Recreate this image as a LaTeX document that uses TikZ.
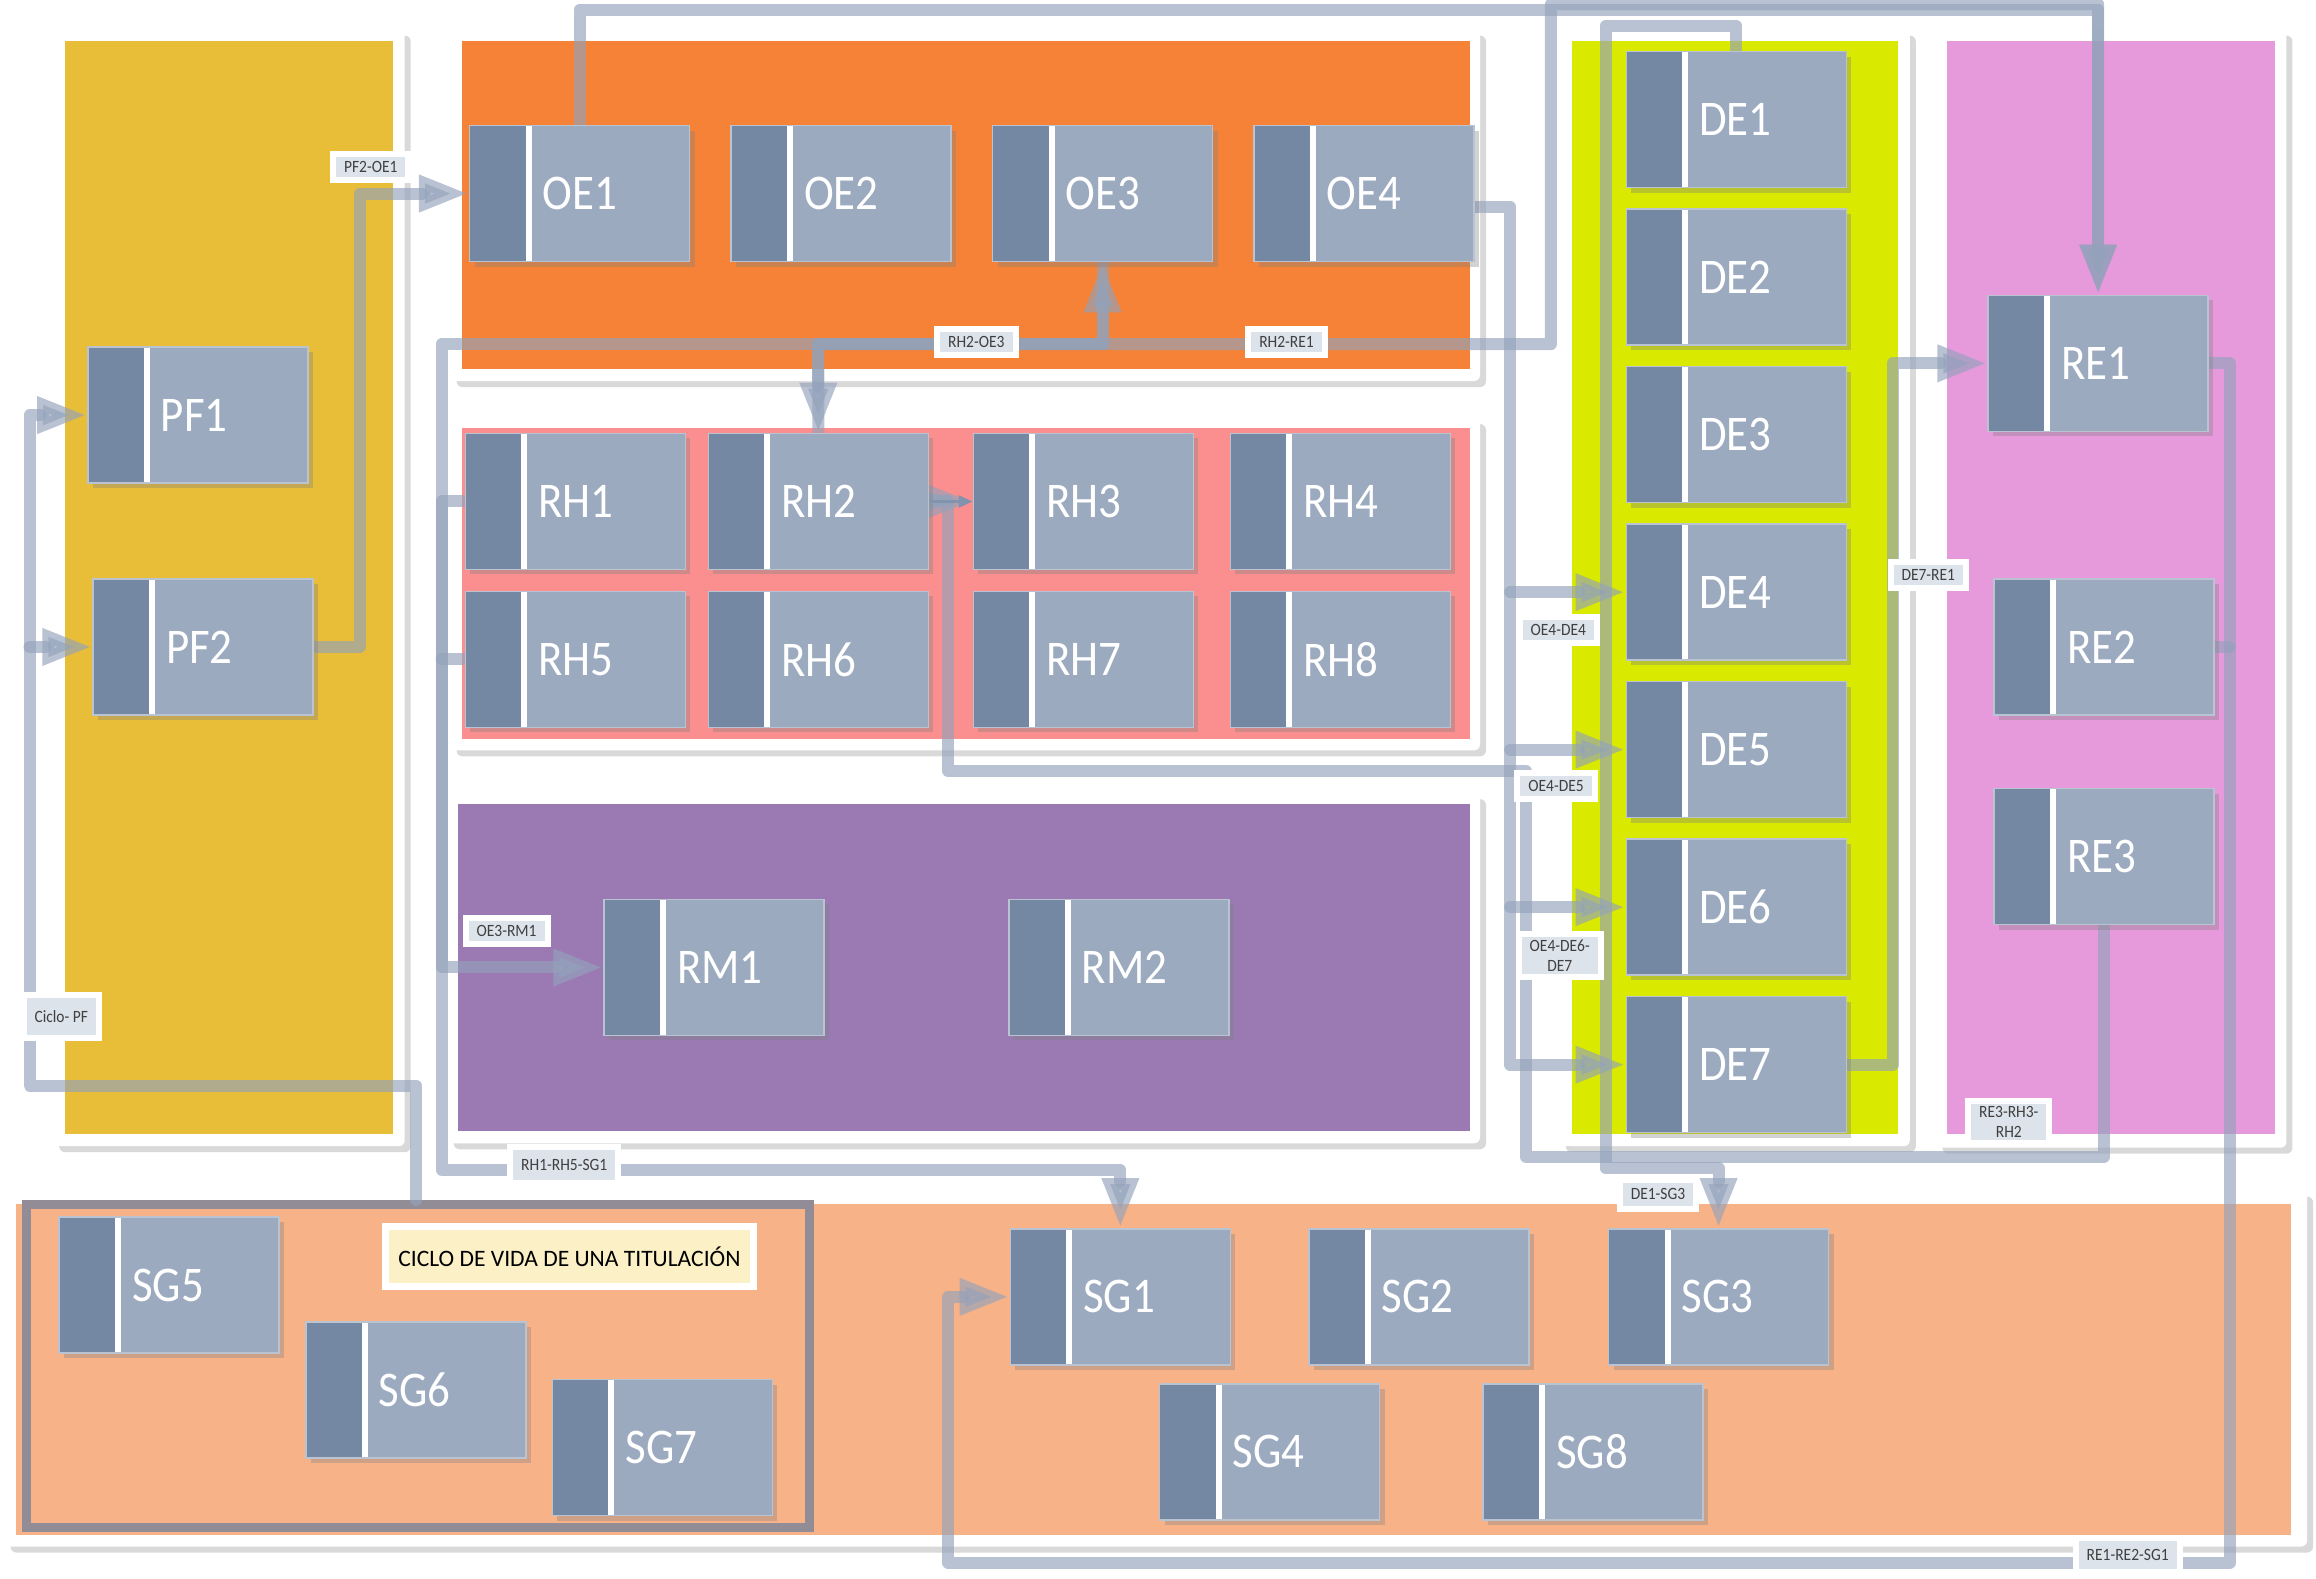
\documentclass[tikz,border=0pt]{standalone}
\usepackage{fontspec}
\setmainfont{Carlito}[FakeStretch=0.9]
\newfontfamily\titlefont{Carlito}
\usetikzlibrary{arrows.meta,shadows,backgrounds,positioning}
\definecolor{boxdark}{HTML}{7488A4}
\definecolor{boxlight}{HTML}{9CAABF}
\definecolor{wire}{HTML}{93A2BB}
\definecolor{tagfill}{HTML}{DDE3EA}
\definecolor{pfcol}{HTML}{E8BD38}
\definecolor{oecol}{HTML}{F58237}
\definecolor{rhcol}{HTML}{FB8E8E}
\definecolor{rmcol}{HTML}{9B7AB4}
\definecolor{decol}{HTML}{D9E900}
\definecolor{recol}{HTML}{E69ADB}
\definecolor{sgcol}{HTML}{F8B288}
\definecolor{titlecol}{HTML}{FBF0C6}
\definecolor{framecol}{HTML}{928C97}
\pgfdeclarelayer{panel}
\pgfdeclarelayer{wires}
\pgfsetlayers{panel,wires,main}
\tikzstyle{blk} = [rectangle, fill=boxlight, draw=boxlight!70!white, line width=0.15mm, minimum height=13.6mm, text width=22mm, inner sep=0pt, align=left, text=white, font=\fontsize{14.2}{16}\selectfont, execute at begin node=\hspace*{7.3mm}, drop shadow={shadow xshift=0.5mm, shadow yshift=-0.5mm, opacity=0.35}, path picture={\fill[boxdark] (path picture bounding box.north west) rectangle ([xshift=5.6mm]path picture bounding box.south west); \fill[white] ([xshift=5.6mm]path picture bounding box.north west) rectangle ([xshift=6.2mm]path picture bounding box.south west);}]
\tikzstyle{tag} = [rectangle, fill=tagfill, draw=white, line width=0.6mm, inner xsep=1.1mm, inner ysep=0.55mm, minimum height=2.6mm, align=center, text=black!75, font=\fontsize{4.9}{5.8}\selectfont]
\tikzstyle{link} = [draw=wire, line width=1.2mm, opacity=0.65, line cap=round, line join=round]
\tikzstyle{pnl} = [fill=white, rounded corners=0.6mm, drop shadow={shadow xshift=0.6mm, shadow yshift=-0.6mm, opacity=0.3}]

\begin{document}
\begin{tikzpicture}[x=0.1477mm, y=-0.1477mm, node distance=26.14mm, >={Triangle[length=5mm,width=3.4mm]}]
\useasboundingbox (0,0) rectangle (1568,1068.4);

% panels
\begin{pgfonlayer}{panel}
\path [pnl] (36,20) rectangle (274,776);
\path [pnl] (305,20) rectangle (1002,258);
\path [pnl] (305,283) rectangle (1002,508);
\path [pnl] (303,537) rectangle (1002,774);
\path [pnl] (1056,20) rectangle (1293,776);
\path [pnl] (1311,20) rectangle (1548,777);
\path [pnl] (3,806) rectangle (1562,1047);
\fill [pfcol] (44,28) rectangle (266,768);
\fill [oecol] (313,28) rectangle (995,250);
\fill [rhcol] (313,290) rectangle (995,500);
\fill [rmcol] (310,544) rectangle (995,766);
\fill [decol] (1064,28) rectangle (1285,768);
\fill [recol] (1318,28) rectangle (1540,768);
\fill [sgcol] (11,815) rectangle (1551,1039);
\node [draw=framecol, line width=0.9mm, minimum width=78.3mm, minimum height=32.3mm, inner sep=0pt] (sgframe) at (283,924.75) {};
\end{pgfonlayer}

% PF
\node [blk] (pf1) at (134,281) {PF1};
\node [blk] (pf2) at (137.5,438) {PF2};

% OE
\node [blk] (oe1) at (392.5,131) {OE1};
\node [blk, right of=oe1] (oe2) {OE2};
\node [blk, right of=oe2] (oe3) {OE3};
\node [blk, right of=oe3] (oe4) {OE4};

% RH
\node [blk] (rh1) at (389.5,339.5) {RH1};
\node [blk, right of=rh1, node distance=24.3mm] (rh2) {RH2};
\node [blk, right of=rh2, node distance=26.5mm] (rh3) {RH3};
\node [blk, right of=rh3, node distance=25.7mm] (rh4) {RH4};
\node [blk, below of=rh1, node distance=15.8mm] (rh5) {RH5};
\node [blk, below of=rh2, node distance=15.8mm] (rh6) {RH6};
\node [blk, below of=rh3, node distance=15.8mm] (rh7) {RH7};
\node [blk, below of=rh4, node distance=15.8mm] (rh8) {RH8};

% RM
\node [blk] (rm1) at (483.5,655) {RM1};
\node [blk, right of=rm1, node distance=40.47mm] (rm2) {RM2};

% DE
\node [blk] (de1) at (1175.5,81) {DE1};
\node [blk, below of=de1, node distance=15.75mm] (de2) {DE2};
\node [blk, below of=de2, node distance=15.75mm] (de3) {DE3};
\node [blk, below of=de3, node distance=15.75mm] (de4) {DE4};
\node [blk, below of=de4, node distance=15.75mm] (de5) {DE5};
\node [blk, below of=de5, node distance=15.75mm] (de6) {DE6};
\node [blk, below of=de6, node distance=15.75mm] (de7) {DE7};

% RE
\node [blk] (re1) at (1420.5,246) {RE1};
\node [blk] (re2) at (1424.5,438) {RE2};
\node [blk, below of=re2, node distance=20.97mm] (re3) {RE3};

% SG
\node [blk] (sg1) at (758.5,878) {SG1};
\node [blk, right of=sg1, node distance=29.84mm] (sg2) {SG2};
\node [blk, right of=sg2, node distance=29.98mm] (sg3) {SG3};
\node [blk] (sg4) at (859.5,983) {SG4};
\node [blk, right of=sg4, node distance=32.35mm] (sg8) {SG8};
\node [blk] (sg5) at (114.5,870) {SG5};
\node [blk] (sg6) at (281.5,941) {SG6};
\node [blk] (sg7) at (448.5,980) {SG7};

\node [fill=titlecol, draw=white, line width=0.7mm, minimum width=36.8mm, minimum height=6.05mm, font=\titlefont\fontsize{6.7}{7.5}\selectfont] (title) at (385.5,850.5) {CICLO DE VIDA DE UNA TITULACIÓN};

% bends
\coordinate (cyc) at (20,735);
\coordinate (tbus) at (299,233);
\coordinate (rbus) at (299,792);
\coordinate (rebus) at (1050,233);
\coordinate (dbus) at (1087,791);
\coordinate (sbus) at (642,1058);
\coordinate (qa) at (1033,783);
\coordinate (qb) at (642,522);

\begin{pgfonlayer}{wires}
\draw [link,->] (sgframe.north west) ++(267,0) |- (cyc) |- (pf1.west);
\draw [link,->] (cyc |- pf2.west) -- (pf2.west);
\draw [link,->] (pf2.east) -- ++(31,0) |- (oe1.west);
\draw [link,->] (oe1.north) -- ++(0,-78) -| (re1.north);
\draw [link,<->] (rh2.north) -- ++(0,-60) -| (oe3.south);
\draw [link,->] (rh2.north) -- ++(0,-60) -- (rebus) -- ++(0,-230) -| (re1.north);
\draw [link,->] (oe3.south) |- (tbus) |- (rm1.west);
\draw [link,->] (rh1.west) -| (rbus) -| (sg1.north);
\draw [link] (rh5.west) -- (rh5.west -| rbus);
\draw [link,->] ([yshift=-1.3mm]oe4.east) -- ++(24,0) coordinate (obus) |- (de7.west);
\draw [link,->] (obus |- de4.west) -- (de4.west);
\draw [link,->] (obus |- de5.west) -- (de5.west);
\draw [link,->] (obus |- de6.west) -- (de6.west);
\draw [link,->] (de1.north) -- ++(0,-17) -| (dbus) -| (sg3.north);
\draw [link,->] (de7.east) -- ++(31,0) |- (re1.west);
\draw [link,->] (re1.east) -- ++(14,0) |- (sbus) |- (sg1.west);
\draw [link] (re2.east) -- ++(10,0);
\draw [link,->] (re3.south) |- (qa) |- (qb) |- (rh3.west);
\draw [link] (rh2.east) -- (qb |- rh2.east);
\end{pgfonlayer}
\draw [boxdark!90!white, line width=0.25mm, -{Triangle[length=1.4mm,width=1.2mm]}] (rh2.east) -- (rh3.west);

% labels
\node [tag] (tpfoe) at (251,113) {PF2-OE1};
\node [tag] (trhoe) at (661,231.5) {RH2-OE3};
\node [tag] (trhre) at (871,231.5) {RH2-RE1};
\node [tag] (toerm) at (343,630) {OE3-RM1};
\node [tag, minimum height=4.3mm, minimum width=7.5mm] (tcyc) at (41.5,688.5) {Ciclo- PF};
\node [tag, minimum height=3.6mm] (trhsg) at (382,788.5) {RH1-RH5-SG1};
\node [tag] (tde4) at (1055,426.5) {OE4-DE4};
\node [tag] (tde5) at (1053.5,532) {OE4-DE5};
\node [tag] (tde67) at (1056,647) {OE4-DE6-\\DE7};
\node [tag] (tdere) at (1305.5,389.5) {DE7-RE1};
\node [tag, minimum height=2.9mm] (tdesg) at (1122.5,808.5) {DE1-SG3};
\node [tag] (trerh) at (1360,759.5) {RE3-RH3-\\RH2};
\node [tag, minimum height=3.4mm] (tresg) at (1440.5,1052.5) {RE1-RE2-SG1};

\end{tikzpicture}
\end{document}
